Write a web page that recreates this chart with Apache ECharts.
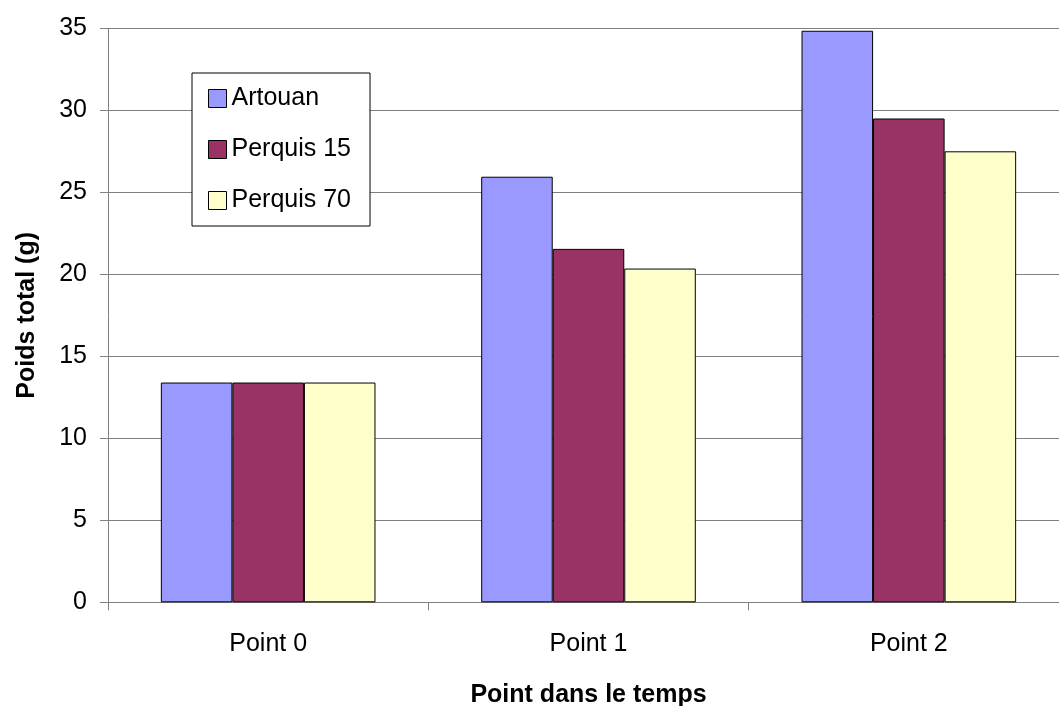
<!DOCTYPE html>
<html>
<head>
<meta charset="utf-8">
<script src="https://cdn.jsdelivr.net/npm/echarts@6/dist/echarts.min.js"></script>
<style>
  html, body { margin: 0; padding: 0; background: #fff; }
  #chart { width: 1059px; height: 706px; }
</style>
</head>
<body>
<div id="chart"></div>
<script>
const categories = ['Point 0', 'Point 1', 'Point 2'];
const seriesNames = ['Artouan', 'Perquis 15', 'Perquis 70'];
const artouan = [13.4, 25.95, 34.85];
const perquis15 = [13.4, 21.55, 29.5];
const perquis70 = [13.4, 20.35, 27.5];
const yTicks = { min: 0, max: 35, interval: 5 };
const colors = ['#9999FF', '#993366', '#FFFFCC'];

const FONT = "'Liberation Sans', Arial, sans-serif";
const chart = echarts.init(document.getElementById('chart'), null, { renderer: 'canvas' });

const dataSets = [artouan, perquis15, perquis70];
const series = seriesNames.map((name, i) => ({
  name: name,
  type: 'bar',
  data: dataSets[i],
  barGap: '0%',
  barCategoryGap: '33%',
  itemStyle: { color: colors[i], borderColor: '#000', borderWidth: 1 },
  emphasis: { disabled: true },
  animation: false
}));

chart.setOption({
  animation: false,
  backgroundColor: '#fff',
  textStyle: { fontFamily: FONT, color: '#000' },
  grid: { left: 108, top: 28.3, width: 961, height: 574, containLabel: false, outerBoundsMode: 'none' },
  legend: {
    orient: 'vertical',
    left: 192,
    top: 73,
    padding: [13, 19, 13, 16],
    itemGap: 26,
    itemWidth: 18,
    itemHeight: 18,
    backgroundColor: '#fff',
    borderColor: '#000',
    borderWidth: 1,
    icon: 'rect',
    textStyle: { fontFamily: FONT, fontSize: 25, color: '#000' },
    itemStyle: { borderColor: '#000', borderWidth: 1 },
    data: seriesNames
  },
  xAxis: {
    type: 'category',
    data: categories,
    name: 'Point dans le temps',
    nameLocation: 'middle',
    nameGap: 80,
    nameTextStyle: { fontFamily: FONT, fontSize: 25, fontWeight: 'bold', color: '#000' },
    axisLine: { lineStyle: { color: '#808080', width: 1 } },
    axisTick: { show: true, length: 8, lineStyle: { color: '#808080' } },
    axisLabel: { fontFamily: FONT, fontSize: 25, color: '#000', margin: 29 }
  },
  yAxis: {
    type: 'value',
    min: yTicks.min,
    max: yTicks.max,
    interval: yTicks.interval,
    name: 'Poids total (g)',
    nameLocation: 'middle',
    nameGap: 68,
    nameTextStyle: { fontFamily: FONT, fontSize: 25, fontWeight: 'bold', color: '#000' },
    axisLine: { show: true, lineStyle: { color: '#808080', width: 1 } },
    axisTick: { show: true, length: 8, lineStyle: { color: '#808080' } },
    axisLabel: { fontFamily: FONT, fontSize: 25, color: '#000', margin: 21 },
    splitLine: { show: true, lineStyle: { color: '#808080', width: 1 } }
  },
  series: series
});
</script>
</body>
</html>
